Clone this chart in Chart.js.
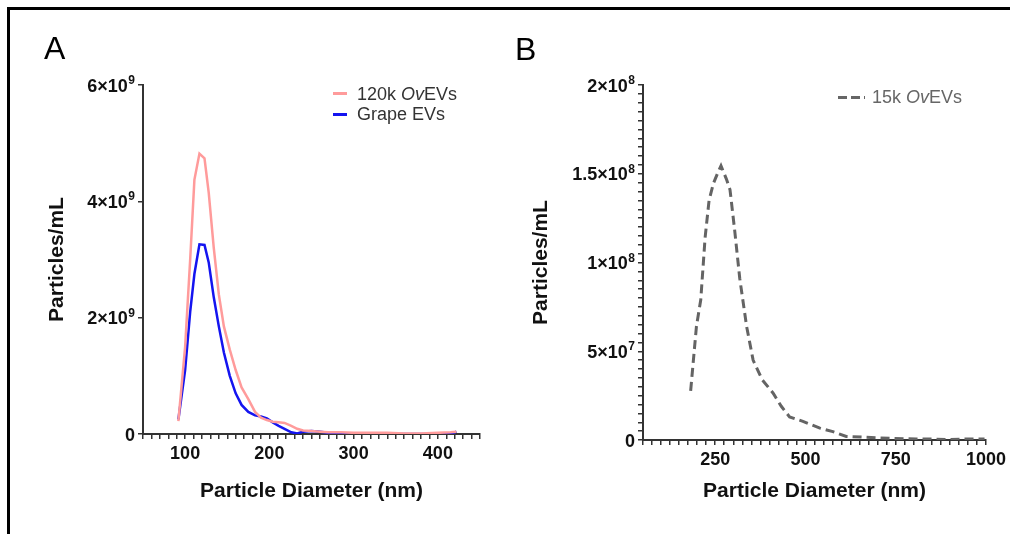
<!DOCTYPE html>
<html>
<head>
<meta charset="utf-8">
<script src="https://cdn.jsdelivr.net/npm/chart.js@4/dist/chart.umd.min.js"></script>
<style>
  body { margin: 0; background: #fff; font-family: "Liberation Sans", Arial, sans-serif; }
  #wrap { position: relative; width: 1010px; height: 534px; overflow: hidden; background: #fff; }
  #frame { position: absolute; left: 7px; top: 7px; right: -10px; bottom: -10px; border-top: 3px solid #000; border-left: 3px solid #000; }
  canvas { position: absolute; top: 0; }
  .panel { position: absolute; font-size: 32px; color: #000; }
  .leg { position: absolute; font-size: 18px; line-height: 20px; white-space: nowrap; }
  .swatch { position: absolute; height: 3px; }
</style>
</head>
<body>
<div id="wrap">
  <div id="frame"></div>
  <canvas id="chartA" width="505" height="534" style="left:0"></canvas>
  <canvas id="chartB" width="505" height="534" style="left:505px"></canvas>
  <div class="panel" style="left:44px;top:30px">A</div>
  <div class="panel" style="left:515px;top:31px">B</div>

  <div class="swatch" style="left:333px;top:92px;width:14px;background:rgb(255,155,155)"></div>
  <div class="leg" style="left:357px;top:84px;color:#333">120k <i>Ov</i>EVs</div>
  <div class="swatch" style="left:333px;top:113px;width:14px;background:rgb(20,20,240)"></div>
  <div class="leg" style="left:357px;top:104px;color:#333">Grape EVs</div>

  <div class="swatch" style="left:838px;top:96px;width:27px;background:repeating-linear-gradient(90deg,#666 0 9px,transparent 9px 13px)"></div>
  <div class="leg" style="left:872px;top:87px;color:#666">15k <i>Ov</i>EVs</div>
</div>
<script>
// panel A: particle size distribution (values in units of 1e9 particles/mL)
const diameterA = [92, 100, 106, 111, 117, 123, 128, 134, 140, 146, 153, 160, 167, 175, 183, 190, 197, 204, 211, 218, 226, 233, 240, 250, 260, 270, 285, 300, 320, 340, 360, 380, 400, 415, 422];
const ovEvs120k = [0.22, 1.5, 3.0, 4.37, 4.82, 4.74, 4.15, 3.2, 2.4, 1.85, 1.45, 1.1, 0.8, 0.6, 0.38, 0.28, 0.24, 0.21, 0.2, 0.19, 0.14, 0.09, 0.06, 0.05, 0.04, 0.03, 0.03, 0.02, 0.02, 0.02, 0.01, 0.01, 0.02, 0.03, 0.04];
const grapeEvs = [0.25, 1.1, 2.1, 2.75, 3.26, 3.25, 2.95, 2.35, 1.85, 1.4, 1.0, 0.7, 0.5, 0.38, 0.32, 0.3, 0.27, 0.2, 0.14, 0.09, 0.03, 0.01, 0.04, 0.05, 0.04, 0.02, 0.01, 0.01, 0.0, 0.0, 0.0, 0.0, 0.0, 0.0, 0.04];

// panel B: values in units of 1e7 particles/mL
const diameterB = [182, 198, 210, 222, 233, 245, 258, 266, 281, 291, 304, 318, 337, 355, 380, 410, 433, 456, 493, 540, 576, 613, 669, 733, 807, 853, 900, 945, 996];
const ovEvs15k = [2.77, 6.4, 7.9, 11.4, 13.5, 14.45, 15.1, 15.45, 14.7, 14.1, 11.8, 9.1, 6.4, 4.5, 3.4, 2.65, 1.9, 1.3, 1.05, 0.67, 0.47, 0.2, 0.15, 0.1, 0.05, 0.05, 0.03, 0.06, 0.06];

// tick labels (base + superscript exponent)
const yTicksA = [0, 2, 4, 6];
const yBaseA = ['0', '2×10', '4×10', '6×10'];
const yExpA = ['', '9', '9', '9'];
const yTicksB = [0, 5, 10, 15, 20];
const yBaseB = ['0', '5×10', '1×10', '1.5×10', '2×10'];
const yExpB = ['', '7', '8', '8', '8'];
const xLabelsA = [100, 200, 300, 400];
const xLabelsB = [250, 500, 750, 1000];

const axisColor = '#333';
const fam = '"Liberation Sans", Arial, sans-serif';
const tickFont = { family: fam, size: 18, weight: 'bold' };
const titleFont = { family: fam, size: 21, weight: 'bold' };

function points(xs, ys) {
  return xs.map((x, i) => ({ x: x, y: ys[i] }));
}

// y tick labels with a real superscript exponent, placed with the y scale
function supLabels(values, bases, exps) {
  return {
    id: 'supLabels',
    afterDraw(chart) {
      const ctx = chart.ctx;
      const y = chart.scales.y;
      const right = chart.chartArea.left - 8;
      ctx.save();
      ctx.fillStyle = '#111';
      ctx.textBaseline = 'alphabetic';
      values.forEach((v, i) => {
        const py = y.getPixelForValue(v);
        let x = right;
        ctx.font = 'bold 12px ' + fam;
        if (exps[i]) {
          const w = ctx.measureText(exps[i]).width;
          ctx.textAlign = 'right';
          ctx.fillText(exps[i], x, py - 1);
          x -= w + 0.5;
        }
        ctx.font = 'bold 18px ' + fam;
        ctx.textAlign = 'right';
        ctx.fillText(bases[i], x, py + 6.5);
      });
      ctx.restore();
    }
  };
}

function makeChart(id, datasets, o) {
  return new Chart(document.getElementById(id), {
    type: 'line',
    data: { datasets: datasets },
    plugins: [supLabels(o.yTicks, o.yBase, o.yExp)],
    options: {
      responsive: false,
      animation: false,
      layout: { padding: { left: 0, top: 85, right: o.right, bottom: 0 } },
      plugins: { legend: { display: false }, tooltip: { enabled: false } },
      elements: { point: { radius: 0 }, line: { tension: 0 } },
      scales: {
        x: {
          type: 'linear', min: o.xMin, max: o.xMax,
          afterFit: s => { s.height = o.xHeight; },
          border: { display: true, color: axisColor, width: 2 },
          grid: { drawOnChartArea: false, drawTicks: true, tickLength: 5, color: axisColor, lineWidth: 1.5 },
          ticks: {
            stepSize: o.xStep, autoSkip: false, maxRotation: 0, minRotation: 0,
            color: '#111', font: tickFont, padding: 4,
            callback: v => o.xLabels.includes(v) ? String(v) : ''
          },
          title: { display: true, text: 'Particle Diameter (nm)', color: '#111', font: titleFont, padding: { bottom: 30 } }
        },
        y: {
          type: 'linear', min: 0, max: o.yMax,
          afterFit: s => { s.width = o.yWidth; },
          border: { display: true, color: axisColor, width: 2 },
          grid: { drawOnChartArea: false, drawTicks: true, tickLength: 5, color: axisColor, lineWidth: 1.5 },
          ticks: {
            stepSize: o.yStep, autoSkip: false,
            color: '#111', font: tickFont, padding: 3,
            callback: () => ''
          },
          title: { display: true, text: 'Particles/mL', color: '#111', font: titleFont, padding: { top: o.yTitlePad } }
        }
      }
    }
  });
}

makeChart('chartA', [
  { data: points(diameterA, ovEvs120k), borderColor: 'rgb(255,155,155)', borderWidth: 2.5 },
  { data: points(diameterA, grapeEvs), borderColor: 'rgb(20,20,240)', borderWidth: 2.5 }
], { right: 25, xMin: 50, xMax: 450, xStep: 10, xLabels: xLabelsA, xHeight: 100,
     yMax: 6, yStep: 2, yTicks: yTicksA, yBase: yBaseA, yExp: yExpA, yWidth: 143, yTitlePad: 45 });

makeChart('chartB', [
  { data: points(diameterB, ovEvs15k), borderColor: 'rgb(100,100,100)', borderWidth: 3, borderDash: [9, 5] }
], { right: 23.5, xMin: 50, xMax: 1000, xStep: 25, xLabels: xLabelsB, xHeight: 94,
     yMax: 20, yStep: 0.5, yTicks: yTicksB, yBase: yBaseB, yExp: yExpB, yWidth: 138, yTitlePad: 24 });
</script>
</body>
</html>
